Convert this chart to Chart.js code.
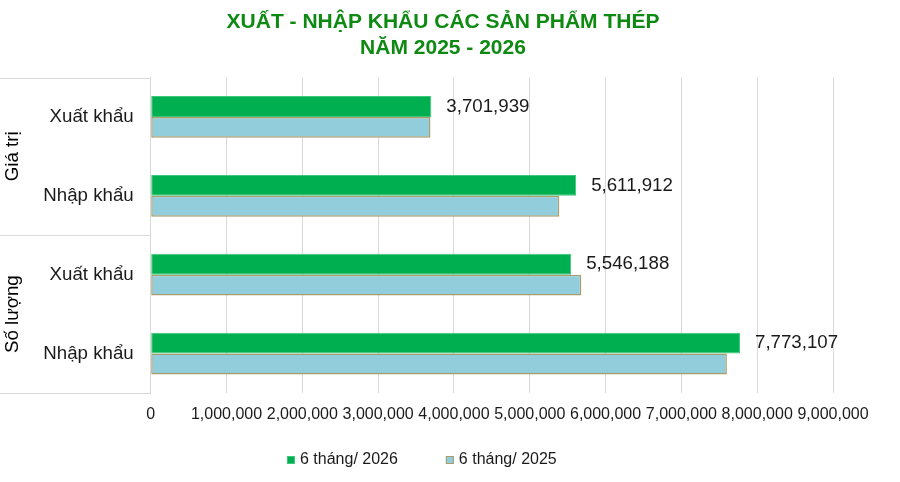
<!DOCTYPE html>
<html>
<head>
<meta charset="utf-8">
<script src="https://cdn.jsdelivr.net/npm/chart.js@4.4.1/dist/chart.umd.min.js"></script>
<style>
  html,body{margin:0;padding:0;background:#fff;}
  #wrap{width:900px;height:482px;position:relative;}
</style>
</head>
<body>
<div id="wrap"><canvas id="mainChart"></canvas></div>
<script>
// chart data
const categories = ['Xuất khẩu','Nhập khẩu','Xuất khẩu','Nhập khẩu'];
const groups = ['Giá trị','Số lượng'];
const values2026 = [3701939, 5611912, 5546188, 7773107];
const values2025 = [3690000, 5390000, 5680000, 7600000];
const xTicks = [0,1000000,2000000,3000000,4000000,5000000,6000000,7000000,8000000,9000000];
const seriesNames = ['6 tháng/ 2026','6 tháng/ 2025'];

const FONT = "'Liberation Sans', Arial, sans-serif";
const fmt = v => Number(v).toLocaleString('en-US');

// group labels + box lines on the left of the y axis
const groupAxis = {
  id:'groupAxis',
  afterDraw(chart){
    const {ctx, chartArea:a, scales:{y}} = chart;
    const per = categories.length / groups.length;
    ctx.save();
    ctx.strokeStyle = '#d9d9d9';
    ctx.lineWidth = 1;
    const lines = [a.top];
    for(let g=1; g<groups.length; g++){
      lines.push((y.getPixelForValue(g*per-1) + y.getPixelForValue(g*per))/2);
    }
    lines.push(a.bottom);
    lines.forEach(py=>{
      ctx.beginPath(); ctx.moveTo(0, Math.round(py)+0.5); ctx.lineTo(a.left, Math.round(py)+0.5); ctx.stroke();
    });
    ctx.fillStyle = '#000';
    ctx.font = '18.7px ' + FONT;
    ctx.textAlign = 'center';
    ctx.textBaseline = 'middle';
    groups.forEach((name,g)=>{
      const cy = (lines[g] + lines[g+1]) / 2;
      ctx.save();
      ctx.translate(13, cy);
      ctx.rotate(-Math.PI/2);
      ctx.fillText(name, 0, 0);
      ctx.restore();
    });
    ctx.restore();
  }
};

// value labels for the 2026 series
const valueLabels = {
  id:'valueLabels',
  afterDatasetsDraw(chart){
    const {ctx} = chart;
    const meta = chart.getDatasetMeta(0);
    ctx.save();
    ctx.fillStyle = '#1a1a1a';
    ctx.font = '18.7px ' + FONT;
    ctx.textAlign = 'left';
    ctx.textBaseline = 'middle';
    meta.data.forEach((bar,i)=>{
      ctx.fillText(fmt(values2026[i]), bar.x + 15, bar.y);
    });
    ctx.restore();
  }
};

// legend at the bottom, spaced like the original
const bottomLegend = {
  id:'bottomLegend',
  afterDraw(chart){
    const {ctx} = chart;
    const ds = chart.data.datasets;
    const cy = 460, box = 8, gap = 5, between = 48;
    ctx.save();
    ctx.font = '16px ' + FONT;
    ctx.textBaseline = 'middle';
    ctx.textAlign = 'left';
    let x = 287;
    ds.forEach(d=>{
      ctx.fillStyle = d.backgroundColor;
      ctx.fillRect(x, cy-box/2, box, box);
      ctx.strokeStyle = d.borderColor;
      ctx.lineWidth = 1;
      ctx.strokeRect(x+0.5, cy-box/2+0.5, box-1, box-1);
      ctx.fillStyle = '#1a1a1a';
      ctx.fillText(d.label, x+box+gap, cy);
      x += box + gap + ctx.measureText(d.label).width + between;
    });
    ctx.restore();
  }
};

// center the title where it sits in the original
const nudge = {
  id:'nudge',
  afterLayout(chart){
    if(chart.titleBlock){ chart.titleBlock.left = 0; chart.titleBlock.right = 886; }
  }
};

new Chart(document.getElementById('mainChart'),{
  type:'bar',
  data:{
    labels:categories,
    datasets:[
      {label:seriesNames[0], data:values2026, backgroundColor:'#00b050', borderColor:'#3cc77a', borderWidth:1, borderSkipped:false},
      {label:seriesNames[1], data:values2025, backgroundColor:'#92cddc', borderColor:'#a89c6c', borderWidth:1.5, borderSkipped:false}
    ]
  },
  plugins:[groupAxis, valueLabels, bottomLegend, nudge],
  options:{
    indexAxis:'y',
    responsive:true,
    maintainAspectRatio:false,
    animation:false,
    categoryPercentage:0.53,
    barPercentage:1,
    layout:{padding:{left:0,right:67,top:0,bottom:49}},
    plugins:{
      title:{display:true, text:['XUẤT - NHẬP KHẨU CÁC SẢN PHẨM THÉP','NĂM 2025 - 2026'], color:'#0e8a12',
        font:{family:FONT, size:21, weight:'bold', lineHeight:1.25}, padding:{top:9,bottom:16}},
      legend:{display:false},
      tooltip:{enabled:false}
    },
    scales:{
      x:{
        min:0, max:9000000,
        afterBuildTicks(s){ s.ticks = xTicks.map(v=>({value:v})); },
        afterFit(s){ s.height = 40; },
        ticks:{callback:v=>fmt(v), font:{family:FONT,size:16}, color:'#1a1a1a', maxRotation:0, autoSkip:false, padding:12},
        grid:{color:'#d9d9d9', drawTicks:false},
        border:{display:false}
      },
      y:{
        afterFit(s){ s.width = 150.7; },
        ticks:{font:{family:FONT,size:18.7}, color:'#1a1a1a', padding:17},
        grid:{display:false, drawTicks:false},
        border:{display:true, color:'#d9d9d9'}
      }
    }
  }
});
</script>
</body>
</html>
